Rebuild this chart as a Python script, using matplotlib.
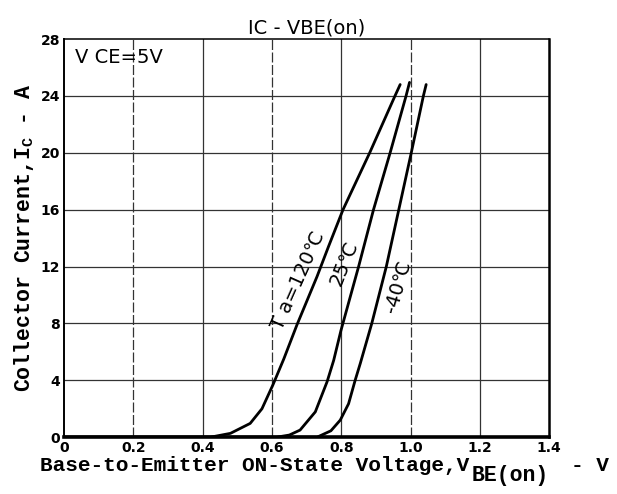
import matplotlib
matplotlib.use("Agg")
import matplotlib.pyplot as plt

# Curve data (V_BE in volts, I_C in amperes)
v_120 = [0.0, 0.422, 0.48, 0.537, 0.571, 0.603, 0.634, 0.672, 0.73, 0.763, 0.805, 0.882, 0.955, 0.97]
i_120 = [0.0, 0.0, 0.27, 0.97, 2.0, 3.7, 5.5, 7.9, 11.3, 13.4, 16.0, 20.0, 24.0, 24.8]

v_25 = [0.0, 0.613, 0.65, 0.681, 0.725, 0.759, 0.778, 0.799, 0.85, 0.893, 0.941, 0.987, 0.997]
i_25 = [0.0, 0.0, 0.15, 0.5, 1.78, 3.9, 5.4, 7.5, 12.0, 16.0, 20.0, 24.0, 24.95]

v_m40 = [0.0, 0.73, 0.77, 0.797, 0.821, 0.84, 0.855, 0.888, 0.93, 0.966, 1.002, 1.037, 1.045]
i_m40 = [0.0, 0.0, 0.45, 1.2, 2.35, 4.0, 5.2, 8.0, 12.0, 16.0, 20.0, 24.0, 24.8]

x_ticks = [0, 0.2, 0.4, 0.6, 0.8, 1.0, 1.2, 1.4]
x_tick_labels = ["0", "0.2", "0.4", "0.6", "0.8", "1.0", "1.2", "1.4"]
y_ticks = [0, 4, 8, 12, 16, 20, 24, 28]

plt.rcParams['mathtext.fontset'] = 'custom'
plt.rcParams['mathtext.rm'] = 'Liberation Mono:bold'
plt.rcParams['mathtext.it'] = 'Liberation Mono:bold'

fig = plt.figure(figsize=(6.17, 4.94), dpi=100)
ax = fig.add_axes([0.104, 0.115, 0.786, 0.806])

ax.set_xlim(0, 1.4)
ax.set_ylim(0, 28)

# grid
for i, x in enumerate(x_ticks[1:-1]):
    ls = (0, (8, 2)) if i % 2 == 0 else '-'
    ax.axvline(x, color='0.2', lw=0.9, ls=ls, zorder=1)
for y in y_ticks[1:-1]:
    ax.axhline(y, color='0.2', lw=0.9, zorder=1)

for v, i in [(v_120, i_120), (v_25, i_25), (v_m40, i_m40)]:
    ax.plot(v, i, color='black', lw=2.0, solid_capstyle='round',
            solid_joinstyle='round', zorder=3)

label_font = dict(family='DejaVu Sans', fontsize=14, color='black')
ax.text(0.676, 11.0, "T a=120\u2103", rotation=66, ha='center', va='center', **label_font)
ax.text(0.81, 12.2, "25\u2103", rotation=68, ha='center', va='center', **label_font)
ax.text(0.963, 10.6, "-40\u2103", rotation=74, ha='center', va='center', **label_font)

ax.text(0.03, 26.7, "V CE=5V", ha='left', va='center', **label_font)

ax.set_title("IC - VBE(on)", family='DejaVu Sans', fontsize=14, color='black', pad=4)

ax.set_xticks(x_ticks)
ax.set_xticklabels(x_tick_labels)
ax.set_yticks(y_ticks)
ax.tick_params(length=0, pad=3, labelsize=10)
for lab in ax.get_xticklabels() + ax.get_yticklabels():
    lab.set_fontweight('bold')
    lab.set_family('DejaVu Sans')

# x label in three pieces, the subscript is nearly as large as the main text in the original
mono = dict(family='Liberation Mono', fontweight='bold', va='baseline', ha='left')
fig.text(0.065, 0.046, "Base-to-Emitter ON-State Voltage,V", fontsize=15.2, **mono)
fig.text(0.765, 0.026, "BE(on)", fontsize=15.5, **mono)
fig.text(0.925, 0.046, "- V", fontsize=15.2, **mono)

ax.set_ylabel("Collector Current,I$_{\\mathrm{C}}$ - A",
              family='Liberation Mono', fontweight='bold', fontsize=15.5, labelpad=3)

ax.spines['bottom'].set_linewidth(2.6)
ax.spines['left'].set_linewidth(1.4)
ax.spines['right'].set_linewidth(1.8)
ax.spines['top'].set_linewidth(1.1)

fig.savefig("out.png", dpi=100)
